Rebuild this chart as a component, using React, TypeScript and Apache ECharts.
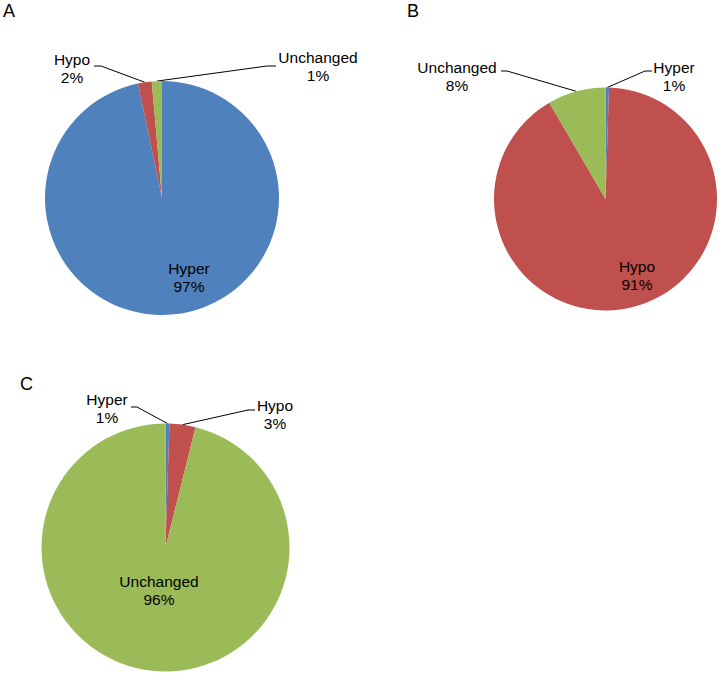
import React, { useEffect, useRef } from "react";
import * as echarts from "echarts";

// ---- data ----
const categories = ["Hyper", "Hypo", "Unchanged"];
const valuesA = [96.7, 1.9, 1.4];
const valuesB = [0.5, 91.1, 8.4];
const valuesC = [0.5, 3.4, 96.1];
const panelLetters = ["A", "B", "C"];

const colors = ["#4F81BD", "#C0504D", "#9BBB59"];
const FONT = "'Liberation Sans', Arial, Helvetica, sans-serif";

// ---- layout (pixels) ----
type LabelCfg = { x: number; y: number; line?: [number, number][] };
const panels = [
  {
    values: valuesA,
    center: [162, 198],
    radius: 117,
    letter: [3, 2],
    bigIndex: 0,
    labels: [
      { x: 189, y: 277 },
      { x: 72, y: 68, line: [[101, 66], [94, 66]] },
      { x: 318, y: 66, line: [[267, 66], [276, 66]] },
    ] as LabelCfg[],
  },
  {
    values: valuesB,
    center: [605.5, 199],
    radius: 111.5,
    letter: [407, 2],
    bigIndex: 1,
    labels: [
      { x: 674, y: 76, line: [[645, 71], [652, 71]] },
      { x: 637, y: 275 },
      { x: 457, y: 76, line: [[507, 71], [501, 71]] },
    ] as LabelCfg[],
  },
  {
    values: valuesC,
    center: [165.5, 547.5],
    radius: 124,
    letter: [20, 375],
    bigIndex: 2,
    labels: [
      { x: 107, y: 408, line: [[137, 407], [131, 407]] },
      { x: 275, y: 414, line: [[248, 410], [255, 410]] },
      { x: 159, y: 590 },
    ] as LabelCfg[],
  },
];

function anchorFor(values: number[], idx: number, cx: number, cy: number, r: number): number[] {
  const total = values.reduce((a, b) => a + b, 0);
  let before = 0;
  for (let i = 0; i < idx; i++) before += values[i];
  const mid = ((before + values[idx] / 2) / total) * Math.PI * 2;
  return [cx + r * Math.sin(mid), cy - r * Math.cos(mid)];
}

export default function App() {
  const ref = useRef<HTMLDivElement>(null);
  useEffect(() => {
    if (!ref.current) return;
    const chart = echarts.init(ref.current, null, { renderer: "svg" });
    const series = panels.map((p) => ({
      type: "pie",
      center: p.center,
      radius: p.radius,
      startAngle: 90,
      clockwise: true,
      avoidLabelOverlap: false,
      silent: true,
      itemStyle: { borderWidth: 0 },
      label: {
        show: true,
        position: "outside",
        color: "#000",
        fontFamily: FONT,
        fontSize: 15.5,
        lineHeight: 18,
        align: "center",
        formatter: (prm: any) => `${prm.name}\n${Math.round(prm.percent)}%`,
      },
      labelLine: { show: true, lineStyle: { color: "#000", width: 1 }, length: 10, length2: 10 },
      labelLayout: (prm: any) => {
        const cfg = p.labels[prm.dataIndex];
        const out: any = { x: cfg.x, y: cfg.y, align: "center", verticalAlign: "middle" };
        if (cfg.line) {
          const a = anchorFor(p.values, prm.dataIndex, p.center[0], p.center[1], p.radius);
          out.labelLinePoints = [a, cfg.line[0], cfg.line[1]];
        }
        return out;
      },
      data: categories.map((name, i) => ({
        name,
        value: p.values[i],
        itemStyle: { color: colors[i] },
        label: i === p.bigIndex ? { position: "inside" } : undefined,
        labelLine: i === p.bigIndex ? { show: false } : undefined,
      })),
    }));
    chart.setOption({
      animation: false,
      backgroundColor: "#fff",
      title: panels.map((p, i) => ({
        text: panelLetters[i],
        left: p.letter[0],
        top: p.letter[1],
        padding: 0,
        textStyle: { fontFamily: FONT, fontSize: 18, fontWeight: "normal", color: "#000" },
      })),
      series,
    });
    return () => chart.dispose();
  }, []);
  return (
    <div
      ref={ref}
      style={{ position: "absolute", left: 0, top: 0, width: 719, height: 673, background: "#fff" }}
    />
  );
}
